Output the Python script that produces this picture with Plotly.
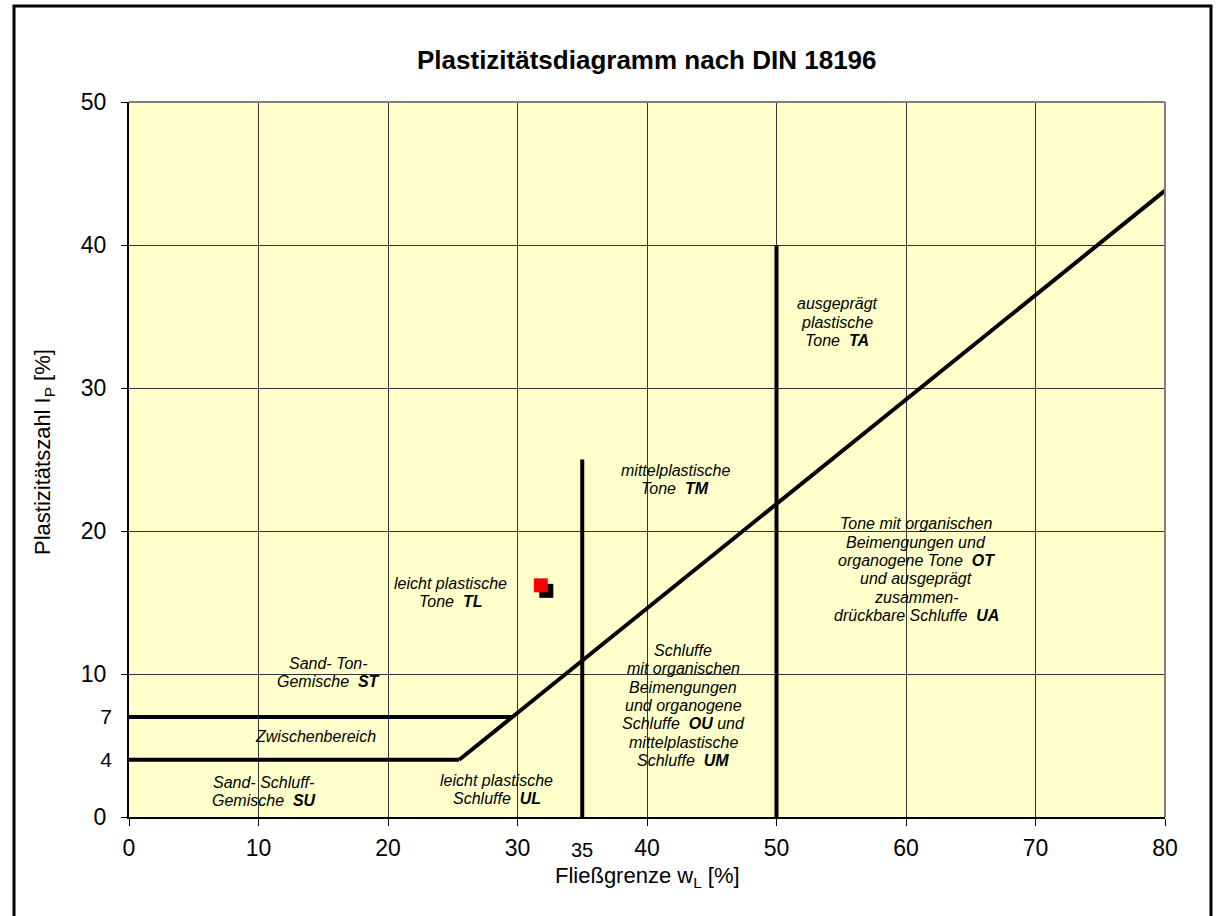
import plotly.graph_objects as go

# ---------------- data ----------------
x_ticks = [0, 10, 20, 30, 40, 50, 60, 70, 80]
y_ticks = [0, 10, 20, 30, 40, 50]
y_extra_ticks = [4, 7]

a_line_wl = [25.5, 80.0]
a_line_ip = [4.0, 43.8]
line7_wl = [0.0, 29.6]
line7_ip = [7.0, 7.0]
line4_wl = [0.0, 25.5]
line4_ip = [4.0, 4.0]
v35_wl = [35.0, 35.0]
v35_ip = [0.0, 25.0]
v50_wl = [50.0, 50.0]
v50_ip = [0.0, 40.0]

sample_wl = [31.8]
sample_ip = [16.2]

# region labels: (x, y, lines)
labels = [
    (54.7, 34.6, ["ausgeprägt", "plastische", "Tone  <b>TA</b>"]),
    (42.2, 23.6, ["mittelplastische", "Tone  <b>TM</b>"]),
    (24.8, 15.7, ["leicht plastische", "Tone  <b>TL</b>"]),
    (15.4, 10.1, ["Sand- Ton-", "Gemische  <b>ST</b>"]),
    (14.4, 5.6, ["Zwischenbereich"]),
    (10.4, 1.8, ["Sand- Schluff-", "Gemische  <b>SU</b>"]),
    (28.4, 1.9, ["leicht plastische", "Schluffe  <b>UL</b>"]),
    (42.8, 7.8, ["Schluffe", "mit organischen", "Beimengungen", "und organogene",
                 "Schluffe  <b>OU</b> und", "mittelplastische", "Schluffe  <b>UM</b>"]),
    (60.8, 17.3, ["Tone mit organischen", "Beimengungen und", "organogene Tone  <b>OT</b>",
                  "und ausgeprägt", "zusammen-", "drückbare Schluffe  <b>UA</b>"]),
]

FONT = "Liberation Sans, Arial, sans-serif"
W, H = 1216, 916
ML, MR, MT, MB = 129, 51, 102, 99
PW = W - ML - MR
PH = H - MT - MB


def px_x(p):
    return (p - ML) / PW


def px_y(p):
    return (H - MB - p) / PH


fig = go.Figure()

line_style = dict(color="black", width=4)
fig.add_trace(go.Scatter(x=a_line_wl, y=a_line_ip, mode="lines", line=line_style, hoverinfo="skip"))
fig.add_trace(go.Scatter(x=line7_wl, y=line7_ip, mode="lines", line=line_style, yaxis="y2", hoverinfo="skip"))
fig.add_trace(go.Scatter(x=line4_wl, y=line4_ip, mode="lines", line=line_style, yaxis="y2", hoverinfo="skip"))
fig.add_trace(go.Scatter(x=v35_wl, y=v35_ip, mode="lines", line=line_style, hoverinfo="skip"))
fig.add_trace(go.Scatter(x=v50_wl, y=v50_ip, mode="lines", line=line_style, hoverinfo="skip"))

# shadow of the sample marker (offset a few pixels right/down)
dx = 5.5 * 80 / PW
dy = 5.5 * 50 / PH
fig.add_trace(go.Scatter(x=[v + dx for v in sample_wl], y=[v - dy for v in sample_ip], mode="markers",
                         marker=dict(symbol="square", size=14, color="black", line=dict(width=0))))
fig.add_trace(go.Scatter(x=sample_wl, y=sample_ip, mode="markers",
                         marker=dict(symbol="square", size=14, color="#FF0000", line=dict(width=0))))

annotations = []
spacing = 18.3
for (lx, ly, lines) in labels:
    n = len(lines)
    for i, t in enumerate(lines):
        shift = ((n - 1) / 2 - i) * spacing
        annotations.append(dict(x=lx, y=ly, xref="x", yref="y", text="<i>" + t + "</i>", showarrow=False,
                                xanchor="center", yanchor="middle", yshift=shift,
                                font=dict(family=FONT, size=16, color="black")))

# title
annotations.append(dict(x=0.5, y=px_y(60), xref="paper", yref="paper", showarrow=False,
                        text="<b>Plastizitätsdiagramm nach DIN 18196</b>",
                        font=dict(family=FONT, size=26, color="black"), xanchor="center", yanchor="middle"))
# axis titles
annotations.append(dict(x=0.5, y=px_y(877), xref="paper", yref="paper", showarrow=False,
                        text="Fließgrenze w<sub>L</sub> [%]",
                        font=dict(family=FONT, size=22, color="black"), xanchor="center", yanchor="middle"))
annotations.append(dict(x=px_x(44), y=px_y(452), xref="paper", yref="paper", showarrow=False,
                        text="Plastizitätszahl I<sub>P</sub> [%]", textangle=-90,
                        font=dict(family=FONT, size=22, color="black"), xanchor="center", yanchor="middle"))
# extra tick label 35
annotations.append(dict(x=35, y=px_y(850), xref="x", yref="paper", showarrow=False, text="35",
                        font=dict(family=FONT, size=20, color="black"), xanchor="center", yanchor="middle"))

shapes = [
    # outer frame
    dict(type="rect", xref="paper", yref="paper", x0=px_x(14), x1=px_x(1211), y0=px_y(930), y1=px_y(6),
         line=dict(color="black", width=3), fillcolor="rgba(0,0,0,0)", layer="below"),
    # top and right plot border (grey)
    dict(type="line", xref="paper", yref="paper", x0=0, x1=1, y0=1, y1=1, line=dict(color="#808080", width=2)),
    dict(type="line", xref="paper", yref="paper", x0=1, x1=1, y0=0, y1=1, line=dict(color="#808080", width=2)),
]

fig.update_layout(
    width=W, height=H,
    margin=dict(l=ML, r=MR, t=MT, b=MB, pad=0),
    paper_bgcolor="white",
    plot_bgcolor="#FFFFCC",
    showlegend=False,
    font=dict(family=FONT, color="black"),
    annotations=annotations,
    shapes=shapes,
    xaxis=dict(range=[0, 80], tickvals=x_ticks, showgrid=True, gridcolor="#333333", gridwidth=1,
               zeroline=False, showline=True, linecolor="black", linewidth=2,
               ticks="outside", ticklen=7, tickcolor="black", tickwidth=1,
               tickfont=dict(family=FONT, size=23), ticklabelstandoff=2),
    yaxis=dict(range=[0, 50], tickvals=y_ticks, showgrid=True, gridcolor="#333333", gridwidth=1,
               zeroline=False, showline=True, linecolor="black", linewidth=2,
               ticks="outside", ticklen=6, tickcolor="black", tickwidth=1,
               tickfont=dict(family=FONT, size=23), ticklabelstandoff=10),
    yaxis2=dict(range=[0, 50], overlaying="y", side="left", tickvals=y_extra_ticks,
                showgrid=False, zeroline=False, showline=False, ticks="",
                tickfont=dict(family=FONT, size=21), ticklabelstandoff=16),
)

fig.write_html("out.html", config={"displayModeBar": False},
               post_script="document.body.style.margin='0';document.body.style.overflow='hidden';")
